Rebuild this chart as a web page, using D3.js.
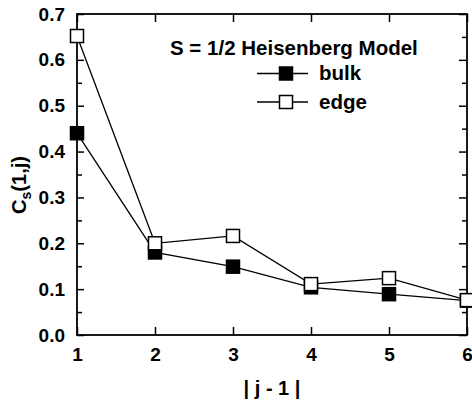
<!DOCTYPE html>
<html>
<head>
<meta charset="utf-8">
<script src="https://cdn.jsdelivr.net/npm/d3@7"></script>
<style>
  body { margin: 0; background: #fff; }
  svg { display: block; font-family: "Liberation Sans", Arial, sans-serif; font-weight: bold; }
</style>
</head>
<body>
<svg id="chart"></svg>
<script>
const w = 472;
const h = 400;

// data
const distances = [1, 2, 3, 4, 5, 6];
const bulk = [0.44, 0.180, 0.149, 0.104, 0.089, 0.075];
const edge = [0.652, 0.200, 0.216, 0.111, 0.124, 0.076];
const yTicks = [0, 0.1, 0.2, 0.3, 0.4, 0.5, 0.6, 0.7];
const yMinor = [0.05, 0.15, 0.25, 0.35, 0.45, 0.55, 0.65];
const legendTitle = "S = 1/2 Heisenberg Model";
const seriesNames = ["bulk", "edge"];

const svg = d3.select("#chart")
  .attr("width", w)
  .attr("height", h);

const padL = 77, padR = 467, padT = 14, padB = 335;
const font = "'Liberation Sans', Arial, sans-serif";

const x = d3.scaleLinear().domain([1, 6]).range([padL, padR]);
const y = d3.scaleLinear().domain([0, 0.7]).range([padB, padT]);

// left axis, major + minor ticks inside
svg.append("g")
  .attr("transform", `translate(${padL},0)`)
  .call(d3.axisLeft(y).tickValues(yTicks).tickSize(-7).tickPadding(12).tickFormat(d3.format(".1f")))
  .call(g => g.select(".domain").remove())
  .call(g => g.selectAll("text").attr("font-size", 19).attr("font-family", font));
svg.append("g")
  .attr("transform", `translate(${padL},0)`)
  .call(d3.axisLeft(y).tickValues(yMinor).tickSize(-5).tickFormat(""))
  .call(g => g.select(".domain").remove());

// right axis ticks
svg.append("g")
  .attr("transform", `translate(${padR},0)`)
  .call(d3.axisRight(y).tickValues(yTicks).tickSize(-8).tickFormat(""))
  .call(g => g.select(".domain").remove());
svg.append("g")
  .attr("transform", `translate(${padR},0)`)
  .call(d3.axisRight(y).tickValues(yMinor).tickSize(-5).tickFormat(""))
  .call(g => g.select(".domain").remove());

// bottom axis
svg.append("g")
  .attr("transform", `translate(0,${padB})`)
  .call(d3.axisBottom(x).tickValues(distances).tickSize(-8).tickPadding(12.5).tickFormat(d3.format("d")))
  .call(g => g.select(".domain").remove())
  .call(g => g.selectAll("text").attr("font-size", 19).attr("font-family", font));

// top axis ticks
svg.append("g")
  .attr("transform", `translate(0,${padT})`)
  .call(d3.axisTop(x).tickValues(distances).tickSize(-8).tickFormat(""))
  .call(g => g.select(".domain").remove());

svg.selectAll(".tick line").attr("stroke-width", 1.5);

// frame
svg.append("rect")
  .attr("x", padL).attr("y", padT)
  .attr("width", padR - padL).attr("height", padB - padT)
  .attr("fill", "none").attr("stroke", "#000").attr("stroke-width", 1.8);

// axis titles
svg.append("text")
  .attr("x", (padL + padR) / 2).attr("y", 395)
  .attr("text-anchor", "middle").attr("font-size", 20)
  .text("| j - 1 |");

const ylab = svg.append("text")
  .attr("transform", "translate(26,185) rotate(-90)")
  .attr("text-anchor", "middle").attr("font-size", 20);
ylab.append("tspan").text("C");
ylab.append("tspan").attr("font-size", 14).attr("dy", 5).text("s");
ylab.append("tspan").attr("dy", -5).text("(1,j)");

// data lines
const line = d3.line().x((d, i) => x(distances[i])).y(d => y(d));
[bulk, edge].forEach(s => {
  svg.append("path").datum(s)
    .attr("d", line)
    .attr("fill", "none").attr("stroke", "#000").attr("stroke-width", 1.3);
});

const ms = 13;
function markers(data, fill) {
  svg.append("g").selectAll("rect")
    .data(data).enter().append("rect")
    .attr("x", (d, i) => x(distances[i]) - ms / 2)
    .attr("y", d => y(d) - ms / 2)
    .attr("width", ms).attr("height", ms)
    .attr("fill", fill)
    .attr("stroke", "#000").attr("stroke-width", 1.5);
}
markers(bulk, "#000");
markers(edge, "#fff");

// legend
svg.append("text")
  .attr("x", 170).attr("y", 55).attr("font-size", 20.5)
  .text(legendTitle);
const legRows = [{ name: seriesNames[0], fill: "#000", cy: 73.5 }, { name: seriesNames[1], fill: "#fff", cy: 102 }];
const leg = svg.append("g").selectAll("g").data(legRows).enter().append("g");
leg.append("line")
  .attr("x1", 257).attr("x2", 308)
  .attr("y1", d => d.cy).attr("y2", d => d.cy)
  .attr("stroke", "#000").attr("stroke-width", 1.3);
leg.append("rect")
  .attr("x", 286 - ms / 2).attr("y", d => d.cy - ms / 2)
  .attr("width", ms).attr("height", ms)
  .attr("fill", d => d.fill).attr("stroke", "#000").attr("stroke-width", 1.5);
leg.append("text")
  .attr("x", 319).attr("y", d => d.cy + 6.5)
  .attr("font-size", 20.5)
  .text(d => d.name);
</script>
</body>
</html>
